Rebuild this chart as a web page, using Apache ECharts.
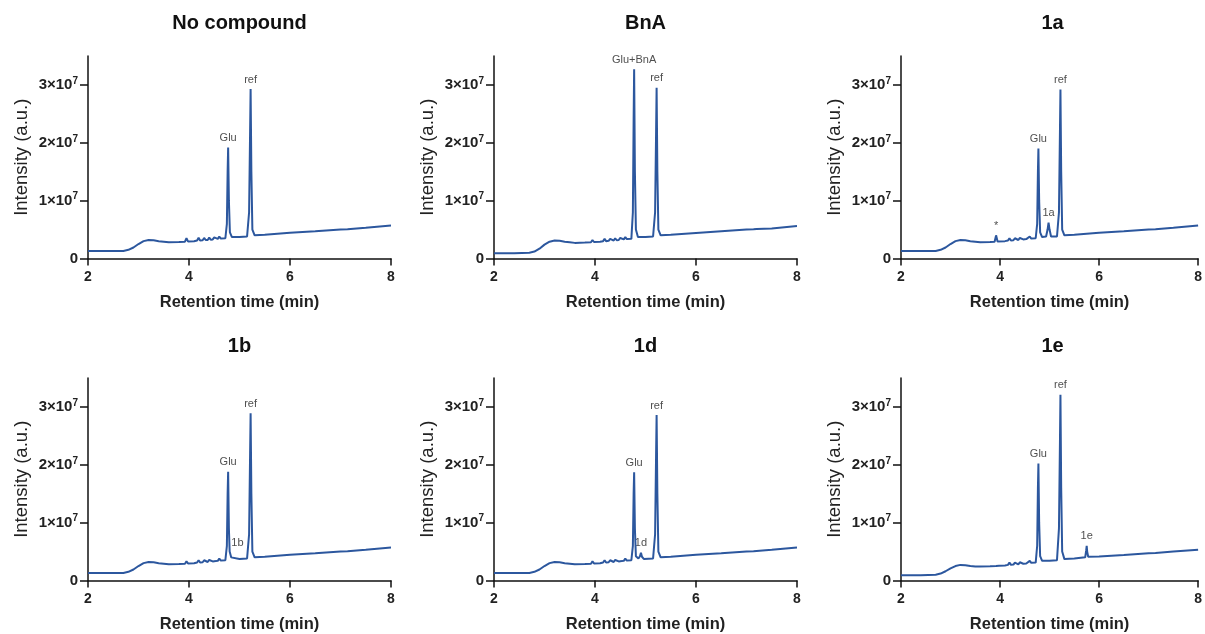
<!DOCTYPE html>
<html><head><meta charset="utf-8">
<script src="https://cdn.jsdelivr.net/npm/echarts@6/dist/echarts.min.js"></script>
<style>html,body{margin:0;padding:0;background:#fff}#c{width:1205px;height:634px}</style>
</head><body><div id="c"></div>
<script>
// Panel titles
const titles = ['No compound', 'BnA', '1a', '1b', '1d', '1e'];
// X-axis tick values (min) and y tick values (x10^7)
const xTicks = [2, 4, 6, 8];
const yTicks = [0, 1, 2, 3];

// Chromatograms: [retention time (min), intensity (x10^7 a.u.)]
const trace_noCompound = [
 [2.0,0.13],[2.4,0.13],[2.7,0.13],[2.8,0.15],[2.9,0.19],[3.0,0.25],[3.1,0.3],[3.2,0.32],[3.3,0.315],[3.4,0.3],
 [3.5,0.29],[3.6,0.28],[3.8,0.285],[3.92,0.29],[3.95,0.35],[3.98,0.295],[4.1,0.3],[4.16,0.31],[4.19,0.36],[4.22,0.31],
 [4.27,0.315],[4.3,0.355],[4.33,0.32],[4.37,0.32],[4.4,0.36],[4.43,0.325],[4.47,0.33],[4.5,0.365],[4.53,0.335],
 [4.57,0.34],[4.6,0.38],[4.63,0.345],[4.72,0.35],[4.75,0.6],[4.765,1.5],[4.775,1.92],[4.79,1.0],[4.81,0.45],[4.85,0.37],
 [5.0,0.37],[5.15,0.38],[5.19,0.8],[5.21,2.2],[5.22,2.93],[5.235,1.5],[5.255,0.5],[5.3,0.4],[5.5,0.41],[6.0,0.445],
 [6.5,0.47],[7.0,0.5],[7.14,0.505],[7.17,0.53],[7.2,0.51],[7.5,0.53],[8.0,0.57]
];
const trace_BnA = [
 [2.0,0.09],[2.4,0.09],[2.7,0.1],[2.8,0.12],[2.9,0.17],[3.0,0.24],[3.1,0.29],[3.2,0.31],[3.3,0.305],[3.4,0.29],
 [3.5,0.28],[3.6,0.27],[3.8,0.275],[3.92,0.28],[3.95,0.32],[3.98,0.285],[4.1,0.29],[4.16,0.3],[4.19,0.34],[4.22,0.3],
 [4.27,0.305],[4.3,0.34],[4.33,0.31],[4.37,0.31],[4.4,0.35],[4.43,0.315],[4.47,0.32],[4.5,0.355],[4.53,0.325],
 [4.57,0.33],[4.6,0.37],[4.63,0.335],[4.72,0.34],[4.75,0.8],[4.765,2.4],[4.775,3.27],[4.79,1.5],[4.81,0.5],[4.85,0.37],
 [5.0,0.37],[5.15,0.38],[5.19,0.8],[5.21,2.2],[5.22,2.95],[5.235,1.5],[5.255,0.5],[5.3,0.4],[5.5,0.41],[6.0,0.44],
 [6.5,0.47],[7.0,0.5],[7.14,0.505],[7.17,0.52],[7.2,0.51],[7.5,0.52],[8.0,0.56]
];
const trace_1a = [
 [2.0,0.13],[2.4,0.13],[2.7,0.13],[2.8,0.15],[2.9,0.19],[3.0,0.25],[3.1,0.3],[3.2,0.32],[3.3,0.315],[3.4,0.3],
 [3.5,0.29],[3.6,0.28],[3.8,0.285],[3.89,0.29],[3.92,0.4],[3.95,0.295],[4.1,0.3],[4.16,0.31],[4.19,0.35],[4.22,0.31],
 [4.27,0.315],[4.3,0.35],[4.33,0.32],[4.37,0.32],[4.4,0.355],[4.43,0.325],[4.47,0.33],[4.5,0.36],[4.53,0.335],
 [4.57,0.34],[4.6,0.38],[4.63,0.345],[4.72,0.35],[4.75,0.6],[4.765,1.5],[4.775,1.9],[4.79,1.0],[4.81,0.45],[4.85,0.37],
 [4.93,0.38],[4.96,0.5],[4.98,0.62],[5.0,0.5],[5.03,0.38],[5.15,0.38],[5.19,0.8],[5.21,2.2],[5.22,2.92],[5.235,1.5],
 [5.255,0.5],[5.3,0.4],[5.5,0.41],[6.0,0.445],[6.5,0.47],[7.0,0.5],[7.14,0.505],[7.17,0.52],[7.2,0.51],[7.5,0.53],[8.0,0.57]
];
const trace_1b = [
 [2.0,0.13],[2.4,0.13],[2.7,0.13],[2.8,0.15],[2.9,0.19],[3.0,0.25],[3.1,0.3],[3.2,0.32],[3.3,0.315],[3.4,0.3],
 [3.5,0.29],[3.6,0.28],[3.8,0.285],[3.92,0.29],[3.95,0.33],[3.98,0.295],[4.1,0.3],[4.16,0.31],[4.19,0.35],[4.22,0.31],
 [4.27,0.315],[4.3,0.35],[4.33,0.32],[4.37,0.32],[4.4,0.355],[4.43,0.325],[4.47,0.33],[4.5,0.36],[4.53,0.335],
 [4.57,0.34],[4.6,0.38],[4.63,0.345],[4.72,0.35],[4.75,0.6],[4.765,1.5],[4.775,1.88],[4.79,0.9],[4.805,0.5],[4.82,0.48],
 [4.835,0.4],[4.86,0.37],[5.0,0.37],[5.15,0.38],[5.19,0.8],[5.21,2.2],[5.22,2.89],[5.235,1.5],[5.255,0.5],[5.3,0.4],
 [5.5,0.41],[6.0,0.445],[6.5,0.47],[7.0,0.5],[7.14,0.505],[7.17,0.53],[7.2,0.51],[7.5,0.53],[8.0,0.57]
];
const trace_1d = [
 [2.0,0.13],[2.4,0.13],[2.7,0.13],[2.8,0.15],[2.9,0.19],[3.0,0.25],[3.1,0.3],[3.2,0.32],[3.3,0.315],[3.4,0.3],
 [3.5,0.29],[3.6,0.28],[3.8,0.285],[3.92,0.29],[3.95,0.33],[3.98,0.295],[4.1,0.3],[4.16,0.31],[4.19,0.35],[4.22,0.31],
 [4.27,0.315],[4.3,0.35],[4.33,0.32],[4.37,0.32],[4.4,0.355],[4.43,0.325],[4.47,0.33],[4.5,0.36],[4.53,0.335],
 [4.57,0.34],[4.6,0.38],[4.63,0.345],[4.72,0.35],[4.75,0.6],[4.765,1.5],[4.775,1.87],[4.79,0.9],[4.81,0.42],[4.86,0.38],
 [4.89,0.42],[4.91,0.48],[4.93,0.41],[4.97,0.37],[5.15,0.38],[5.19,0.8],[5.21,2.2],[5.22,2.86],[5.235,1.5],[5.255,0.5],
 [5.3,0.4],[5.5,0.41],[6.0,0.445],[6.5,0.47],[7.0,0.5],[7.14,0.505],[7.17,0.53],[7.2,0.51],[7.5,0.53],[8.0,0.57]
];
const trace_1e = [
 [2.0,0.09],[2.4,0.09],[2.7,0.1],[2.8,0.12],[2.9,0.16],[3.0,0.21],[3.1,0.25],[3.2,0.27],[3.3,0.265],[3.4,0.25],
 [3.5,0.24],[3.6,0.24],[3.8,0.245],[3.92,0.25],[3.95,0.28],[3.98,0.255],[4.1,0.26],[4.16,0.27],[4.19,0.31],[4.22,0.27],
 [4.27,0.275],[4.3,0.31],[4.33,0.28],[4.37,0.28],[4.4,0.315],[4.43,0.285],[4.47,0.29],[4.5,0.32],[4.53,0.295],
 [4.57,0.3],[4.6,0.34],[4.63,0.305],[4.72,0.31],[4.75,0.6],[4.765,1.6],[4.775,2.02],[4.79,1.0],[4.81,0.42],[4.85,0.34],
 [5.0,0.34],[5.15,0.35],[5.19,0.9],[5.21,2.4],[5.22,3.21],[5.235,1.6],[5.255,0.5],[5.3,0.37],[5.5,0.38],[5.72,0.4],
 [5.74,0.52],[5.75,0.6],[5.76,0.5],[5.78,0.41],[6.0,0.415],[6.5,0.44],[7.0,0.47],[7.14,0.475],[7.17,0.49],[7.2,0.48],
 [7.5,0.5],[8.0,0.53]
];
const traces = [trace_noCompound, trace_BnA, trace_1a, trace_1b, trace_1d, trace_1e];

// Peak annotations: [time, intensity, label]
const peaks_noCompound = [[4.775,1.92,'Glu'],[5.22,2.93,'ref']];
const peaks_BnA = [[4.775,3.27,'Glu+BnA'],[5.22,2.95,'ref']];
const peaks_1a = [[3.92,0.4,'*'],[4.775,1.9,'Glu'],[4.98,0.62,'1a'],[5.22,2.92,'ref']];
const peaks_1b = [[4.775,1.88,'Glu'],[4.84,0.48,'1b'],[5.22,2.89,'ref']];
const peaks_1d = [[4.775,1.87,'Glu'],[4.91,0.48,'1d'],[5.22,2.86,'ref']];
const peaks_1e = [[4.775,2.02,'Glu'],[5.75,0.6,'1e'],[5.22,3.21,'ref']];
const peaks = [peaks_noCompound, peaks_BnA, peaks_1a, peaks_1b, peaks_1d, peaks_1e];

const FONT = '"Liberation Sans", Arial, sans-serif';
const lefts = [88, 494, 901];
const tops = [56, 378];
const W = 303, H = 202.5;
const lineColor = '#2c579e';

const grid = [], xAxis = [], yAxis = [], series = [], title = [];
for (let k = 0; k < 6; k++) {
  const col = k % 3, row = Math.floor(k / 3);
  grid.push({left: lefts[col], top: tops[row], width: W, height: H, containLabel: false});
  title.push({text: titles[k], left: lefts[col] + W / 2 - 5, top: row === 0 ? 8 : 331, textAlign: 'center',
    textStyle: {fontFamily: FONT, fontSize: 20, fontWeight: 'bold', color: '#111'}});
  xAxis.push({gridIndex: k, type: 'value', min: 2, max: 8, interval: 2,
    name: 'Retention time (min)', nameLocation: 'middle', nameGap: 35,
    nameTextStyle: {fontFamily: FONT, fontSize: 16.5, fontWeight: 'bold', color: '#222'},
    axisLine: {lineStyle: {color: '#111', width: 1.5}},
    axisTick: {show: true, length: 7, lineStyle: {color: '#111', width: 1.5}, customValues: xTicks},
    axisLabel: {fontFamily: FONT, fontSize: 14, fontWeight: 'bold', color: '#222', margin: 12, customValues: xTicks},
    splitLine: {show: false}});
  yAxis.push({gridIndex: k, type: 'value', min: 0, max: 3.5,
    name: 'Intensity (a.u.)', nameLocation: 'middle', nameGap: 57,
    nameTextStyle: {fontFamily: FONT, fontSize: 18.5, color: '#222'},
    axisLine: {show: true, lineStyle: {color: '#111', width: 1.5}},
    axisTick: {show: true, length: 8, lineStyle: {color: '#111', width: 1.5}, customValues: yTicks},
    axisLabel: {fontFamily: FONT, fontSize: 15, fontWeight: 'bold', color: '#222', margin: 10, customValues: yTicks,
      formatter: v => v === 0 ? '0' : v + '×10{sup|7}',
      rich: {sup: {fontFamily: FONT, fontSize: 10, fontWeight: 'bold', color: '#222', padding: [0, 0, 8, 0]}}},
    splitLine: {show: false}});
  series.push({type: 'line', xAxisIndex: k, yAxisIndex: k, data: traces[k], showSymbol: false, symbol: 'none',
    lineStyle: {color: lineColor, width: 2}, silent: true, animation: false});
  series.push({type: 'scatter', xAxisIndex: k, yAxisIndex: k, symbol: 'circle', symbolSize: 2, silent: true, animation: false,
    itemStyle: {color: 'rgba(0,0,0,0)'},
    data: peaks[k].map(p => ({value: [p[0], p[1]], name: p[2],
      label: p[2] === '1b' ? {offset: [6, 0]} : undefined})),
    label: {show: true, position: 'top', distance: 3, formatter: p => p.name,
      fontFamily: FONT, fontSize: 11, color: '#222', fontWeight: 500}});
}

const chart = echarts.init(document.getElementById('c'), null, {renderer: 'canvas'});
chart.setOption({animation: false, backgroundColor: '#fff', title, grid, xAxis, yAxis, series});
</script></body></html>
